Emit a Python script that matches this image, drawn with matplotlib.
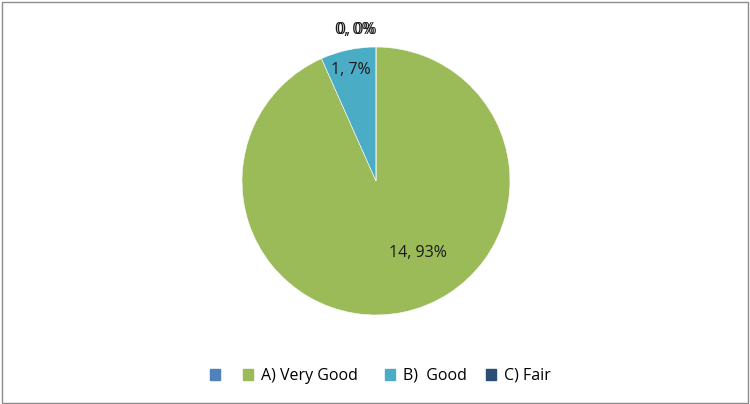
import matplotlib.pyplot as plt
from matplotlib.patches import Rectangle

plt.rcParams['font.family'] = ['Open Sans', 'DejaVu Sans']

categories = ["", "A) Very Good", "B)  Good", "C) Fair"]
values = [0, 14, 1, 0]
colors = ["#4F81BD", "#9BBB59", "#4BACC6", "#2C4D75"]

# label positions in pie radius units (Excel "best fit" placement)
label_pos = [(-0.155, 1.13), (0.31, -0.54), (-0.19, 0.83), (-0.145, 1.13)]
# legend entry left edges in pixels
legend_x = [210, 243, 385, 486]

total = sum(values)
labels = [f"{v}, {round(100 * v / total)}%" for v in values]

fig = plt.figure(figsize=(7.5, 4.04), dpi=100)
ax = fig.add_axes([0, 0, 1, 1])

wedges, _ = ax.pie(values, colors=colors, startangle=90, counterclock=False,
                   radius=1.0, wedgeprops=dict(edgecolor="white", linewidth=0.4))
ax.set_xlim(-376 / 134, (750 - 376) / 134)
ax.set_ylim((181 - 404) / 134, 181 / 134)
ax.set_aspect("auto")
ax.axis("off")

for lab, (x, y) in zip(labels, label_pos):
    ax.text(x, y, lab, ha="center", va="center", fontsize=11.5, color="#1a1a1a")

for cat, col, px in zip(categories, colors, legend_x):
    fig.legend([Rectangle((0, 0), 1, 1, color=col)], [cat], loc="center left",
               bbox_to_anchor=(px / 750, 1 - 376 / 404), frameon=False,
               fontsize=11.5, handlelength=0.65, handleheight=0.65,
               handletextpad=0.45, borderpad=0, borderaxespad=0)

fig.patches.append(Rectangle((0.002, 0.003), 0.995, 0.993, transform=fig.transFigure,
                             fill=False, edgecolor="#8c8c8c", linewidth=1))

fig.savefig("out.png", dpi=100)
